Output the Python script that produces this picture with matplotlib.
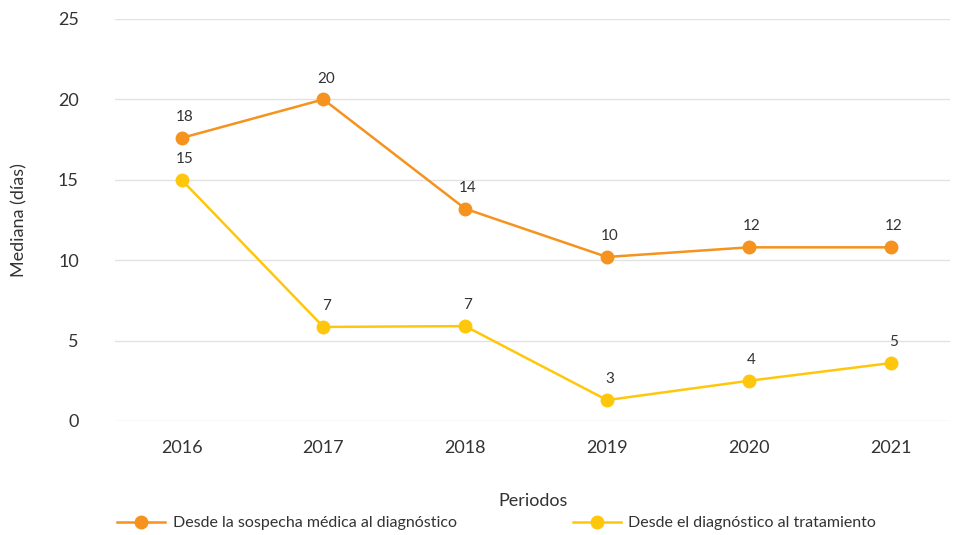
import matplotlib.pyplot as plt

# data
years = ['2016', '2017', '2018', '2019', '2020', '2021']
sospecha_diag = [17.6, 20.0, 13.2, 10.2, 10.8, 10.8]
sospecha_diag_labels = ['18', '20', '14', '10', '12', '12']
diag_trat = [15.0, 5.85, 5.9, 1.3, 2.5, 3.6]
diag_trat_labels = ['15', '7', '7', '3', '4', '5']

series_names = ['Desde la sospecha médica al diagnóstico',
                'Desde el diagnóstico al tratamiento']
orange = '#F5931E'
yellow = '#FFC70C'
text_col = '#333333'

plt.rcParams['font.family'] = ['Lato', 'DejaVu Sans']

fig = plt.figure(figsize=(9.54, 5.35), dpi=100)
ax = fig.add_axes([0.1205, 0.2131, 0.8755, 0.7514])

x = list(range(len(years)))
ax.plot(x, sospecha_diag, color=orange, lw=1.8, marker='o', ms=9,
        label=series_names[0], zorder=3)
ax.plot(x, diag_trat, color=yellow, lw=1.8, marker='o', ms=9,
        label=series_names[1], zorder=3)

# value labels above each point
for vals, labs in [(sospecha_diag, sospecha_diag_labels), (diag_trat, diag_trat_labels)]:
    for xi, v, lab in zip(x, vals, labs):
        ax.annotate(lab, (xi, v), xytext=(2, 10), textcoords='offset points',
                    ha='center', va='bottom', fontsize=11, color=text_col)

ax.set_xlim(-0.47, 5.42)
ax.set_ylim(0, 25)
ax.set_yticks([0, 5, 10, 15, 20, 25])
ax.set_xticks(x)
ax.set_xticklabels(years)
ax.tick_params(axis='both', length=0, labelsize=13, colors=text_col)
ax.tick_params(axis='y', pad=26)
ax.tick_params(axis='x', pad=14)
ax.grid(axis='y', color='#e2e2e2', lw=1)
ax.set_axisbelow(True)
for s in ax.spines.values():
    s.set_visible(False)

ax.set_ylabel('Mediana (días)', fontsize=13, color=text_col, labelpad=22)
ax.set_xlabel('Periodos', fontsize=13, color=text_col, labelpad=26)

fig.legend(loc='lower left', bbox_to_anchor=(0.108, -0.018), ncol=2, frameon=False,
           fontsize=11.5, handlelength=3.0, columnspacing=7.3, handletextpad=0.45,
           labelcolor=text_col)

fig.savefig('out.png', dpi=100)
